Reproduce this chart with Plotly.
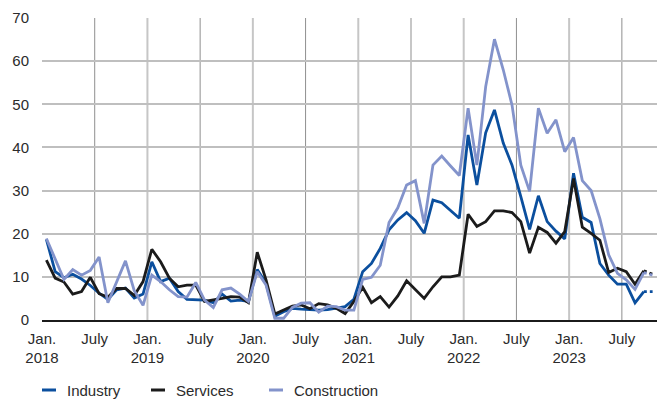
import plotly.graph_objects as go

# Monthly series, Jan. 2018 - Oct. 2023 (the last month is a provisional estimate)
months = [f"{y}-{m:02d}" for y in range(2018, 2024) for m in range(1, 13)][:70]

industry = [
    18.7, 11.2, 9.8, 10.6, 9.5, 8.0, 6.2, 4.8, 7.0, 7.4, 5.1, 6.0,
    13.5, 8.9, 9.7, 6.6, 4.8, 4.7, 4.6, 4.0, 6.0, 4.4, 4.6, 4.3,
    11.7, 8.5, 0.9, 1.9, 2.7, 2.5, 2.4, 2.3, 2.4, 2.8, 3.1, 4.8,
    11.2, 13.1, 16.6, 20.9, 23.2, 24.9, 23.0, 20.1, 27.8, 27.2, 25.4, 23.6,
    42.9, 31.3, 43.4, 48.7, 41.0, 35.9, 28.6, 21.0, 28.8, 22.8, 20.6, 18.8,
    34.0, 23.8, 22.6, 13.1, 10.4, 8.3, 8.3, 4.0, 6.6, 6.6,
]
services = [
    13.9, 9.7, 8.8, 6.0, 6.6, 9.9, 6.1, 5.3, 7.3, 7.3, 5.7, 8.9,
    16.4, 13.5, 9.7, 7.7, 8.1, 8.1, 4.3, 4.6, 5.0, 5.4, 5.3, 4.0,
    15.7, 9.3, 1.4, 2.3, 3.2, 3.5, 2.6, 3.8, 3.5, 2.7, 1.5, 4.3,
    7.6, 4.0, 5.4, 3.0, 5.6, 9.1, 7.1, 5.0, 7.7, 10.0, 10.0, 10.4,
    24.5, 21.7, 22.8, 25.3, 25.3, 24.9, 22.8, 15.5, 21.5, 20.3, 17.8, 20.5,
    32.8, 21.5, 20.1, 18.5, 11.0, 12.0, 11.2, 8.3, 11.4, 10.6,
]
construction = [
    18.9, 14.0, 9.4, 11.7, 10.4, 11.5, 14.6, 4.0, 8.8, 13.7, 6.8, 3.4,
    10.4, 8.9, 7.0, 5.4, 5.3, 8.7, 4.6, 2.9, 7.0, 7.4, 6.0, 4.3,
    11.2, 8.1, 0.4, 0.4, 2.9, 3.9, 4.0, 1.8, 3.2, 3.1, 2.3, 2.3,
    9.4, 9.9, 12.7, 22.6, 26.0, 31.3, 32.3, 22.4, 35.9, 38.0, 35.7, 33.5,
    49.1, 35.9, 54.1, 65.1, 58.0, 49.8, 35.9, 29.8, 49.1, 43.3, 46.4, 39.0,
    42.3, 32.3, 30.0, 23.5, 15.1, 10.8, 9.3, 7.1, 11.0, 10.4,
]

series_names = ["Industry", "Services", "Construction"]
series_values = [industry, services, construction]
series_colors = ["#0b4f9e", "#1b1b1b", "#8393cb"]

# Tick marks sit on month boundaries (Jan. and July)
tick_vals = [i - 0.5 for i in range(0, 70, 6)]
tick_text = [f"Jan.<br>{2018 + i // 12}" if i % 12 == 0 else "July" for i in range(0, 70, 6)]
y_ticks = list(range(0, 71, 10))

FONT = "Liberation Sans Narrow, Arial Narrow, Liberation Sans, Arial, sans-serif"
TEXT = "#2b2b2b"
W, H = 661, 403
M = dict(l=42, r=4, t=18, b=83)
plot_w = W - M["l"] - M["r"]
plot_h = H - M["t"] - M["b"]

idx = list(range(len(months)))
n_solid = len(months) - 1  # final month shown dotted

fig = go.Figure()
for name, vals, color in zip(series_names, series_values, series_colors):
    fig.add_trace(go.Scatter(
        x=idx[:n_solid], y=vals[:n_solid], mode="lines", name=name,
        line=dict(color=color, width=2.8), customdata=months[:n_solid],
        hovertemplate="%{customdata}: %{y}<extra>" + name + "</extra>",
    ))
    fig.add_trace(go.Scatter(
        x=idx[n_solid - 1:], y=vals[n_solid - 1:], mode="lines", name=name,
        line=dict(color=color, width=2.8, dash="3px,3px"),
        customdata=months[n_solid - 1:],
        hovertemplate="%{customdata}: %{y}<extra>" + name + "</extra>",
    ))

# Vertical grid: light wide lines at January, thin darker lines at July
shapes = []
for tv, tt in zip(tick_vals[1:], tick_text[1:]):
    jan = tt.startswith("Jan")
    shapes.append(dict(
        type="line", xref="x", yref="y domain", x0=tv, x1=tv, y0=0, y1=1,
        line=dict(color="#c6c6c6" if jan else "#8f8f8f", width=2 if jan else 1),
        layer="below",
    ))

# Legend row below the axis: short colour key followed by the series name
legend_key_px = [42, 151, 269]   # left edge of each key, from the figure's left side
legend_y_px = 390                # vertical centre of the legend row
key_len, text_gap = 14, 23
annotations = []
ly = (H - M["b"] - legend_y_px) / plot_h
for name, color, kx in zip(series_names, series_colors, legend_key_px):
    x0 = (kx - M["l"]) / plot_w
    x1 = (kx + key_len - M["l"]) / plot_w
    shapes.append(dict(
        type="line", xref="paper", yref="paper", x0=x0, x1=x1, y0=ly, y1=ly,
        line=dict(color=color, width=3),
    ))
    annotations.append(dict(
        xref="paper", yref="paper", x=(kx + text_gap - M["l"]) / plot_w, y=ly,
        xanchor="left", yanchor="middle", text=name, showarrow=False,
        font=dict(family=FONT, size=15, color=TEXT),
    ))

fig.update_layout(
    width=W, height=H,
    margin=dict(**M, autoexpand=False),
    paper_bgcolor="white", plot_bgcolor="white",
    font=dict(family=FONT, size=15, color=TEXT),
    shapes=shapes, annotations=annotations,
    showlegend=False,
    xaxis=dict(
        range=[-0.5, len(months) - 0.5], tickmode="array",
        tickvals=tick_vals, ticktext=tick_text, showgrid=False, zeroline=False,
        showline=True, linecolor="#1b1b1b", linewidth=1.5, ticks="",
        ticklabelstandoff=4, fixedrange=True,
    ),
    yaxis=dict(
        range=[0, 70], tickmode="array", tickvals=y_ticks, showgrid=False,
        zeroline=False, showline=False, ticks="", ticklabelstandoff=12,
        minor=dict(tickvals=y_ticks[1:-1], showgrid=True, gridcolor="#bfbfbf", gridwidth=1.5),
        fixedrange=True,
    ),
)

fig.write_html("out.html")
